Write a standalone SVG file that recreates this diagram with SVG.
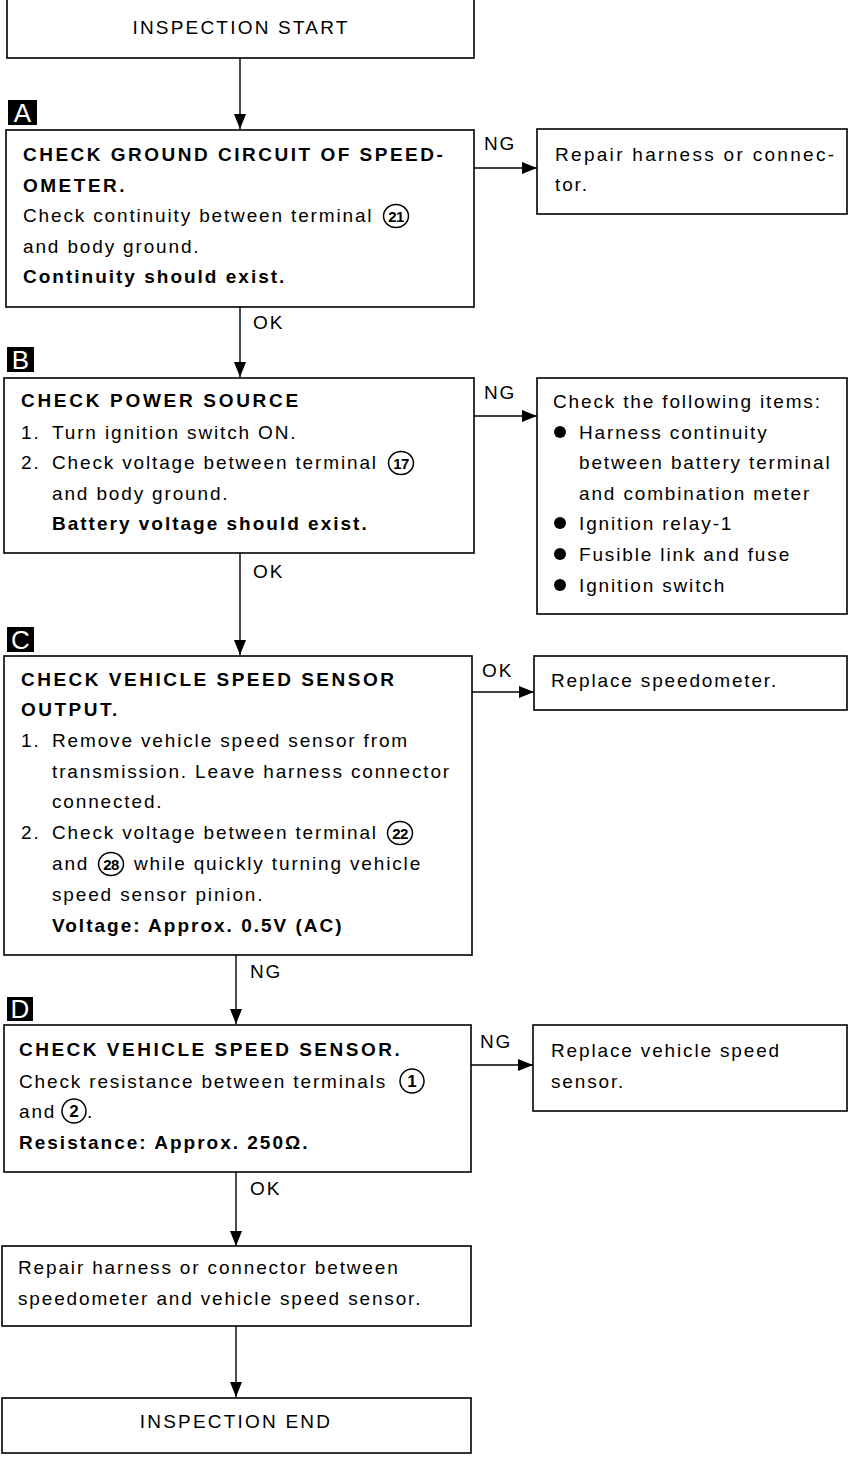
<svg xmlns="http://www.w3.org/2000/svg" width="849" height="1459" viewBox="0 0 849 1459">
<style>
.box{fill:#fff;stroke:#000;stroke-width:1.6}
.t{font-family:"Liberation Sans",Arial,sans-serif;font-size:19px;letter-spacing:1.85px;fill:#000}
.b{font-weight:bold;letter-spacing:2px}
.cap{letter-spacing:2.5px}
.rc{letter-spacing:2.2px}
.c{text-anchor:middle}
.lab{fill:#000}
.labt{font-family:"Liberation Sans",Arial,sans-serif;font-size:26px;fill:#fff;text-anchor:middle}
.edge{stroke:#000;stroke-width:1.4;fill:none}
.circ{fill:none;stroke:#000;stroke-width:1.5}
.cn{font-family:"Liberation Sans",Arial,sans-serif;font-size:15px;font-weight:bold;letter-spacing:-0.6px;text-anchor:middle;fill:#000}
.cn1{font-family:"Liberation Sans",Arial,sans-serif;font-size:17px;font-weight:bold;text-anchor:middle;fill:#000}
.dot{fill:#000}
</style>
<defs>
<marker id="ah" viewBox="0 0 15 12" refX="15" refY="6" markerWidth="15" markerHeight="12" markerUnits="userSpaceOnUse" orient="auto"><path d="M0,0 L15,6 L0,12 z" fill="#000"/></marker>
</defs>
<rect width="849" height="1459" fill="#fff"/>

<g id="connectors">
<line class="edge" x1="240" y1="58" x2="240" y2="129" marker-end="url(#ah)"/>
<line class="edge" x1="474" y1="168" x2="537" y2="168" marker-end="url(#ah)"/>
<text class="t" x="484" y="150">NG</text>
<line class="edge" x1="240" y1="307" x2="240" y2="377" marker-end="url(#ah)"/>
<text class="t" x="253" y="329">OK</text>
<line class="edge" x1="474" y1="416" x2="537" y2="416" marker-end="url(#ah)"/>
<text class="t" x="484" y="399">NG</text>
<line class="edge" x1="240" y1="553" x2="240" y2="655" marker-end="url(#ah)"/>
<text class="t" x="253" y="578">OK</text>
<line class="edge" x1="472" y1="692" x2="534" y2="692" marker-end="url(#ah)"/>
<text class="t" x="482" y="677">OK</text>
<line class="edge" x1="236" y1="955" x2="236" y2="1024" marker-end="url(#ah)"/>
<text class="t" x="250" y="978">NG</text>
<line class="edge" x1="471" y1="1065" x2="533" y2="1065" marker-end="url(#ah)"/>
<text class="t" x="480" y="1048">NG</text>
<line class="edge" x1="236" y1="1172" x2="236" y2="1246" marker-end="url(#ah)"/>
<text class="t" x="250" y="1195">OK</text>
<line class="edge" x1="236" y1="1326" x2="236" y2="1397" marker-end="url(#ah)"/>
</g>

<g id="start">
<rect class="box" x="7" y="-1" width="467" height="59"/>
<text class="t c rc" x="241" y="34">INSPECTION START</text>
</g>

<g id="stepA">
<rect class="lab" x="8" y="100" width="29" height="25"/>
<text class="labt" x="22.5" y="122">A</text>
<rect class="box" x="6" y="130" width="468" height="177"/>
<text class="t b cap" x="23" y="161">CHECK GROUND CIRCUIT OF SPEED-</text>
<text class="t b cap" x="23" y="192">OMETER.</text>
<text class="t" x="23" y="222">Check continuity between terminal</text>
<ellipse class="circ" cx="396" cy="216" rx="12.5" ry="11.5"/>
<text class="cn" x="396" y="221.5">21</text>
<text class="t" x="23" y="253">and body ground.</text>
<text class="t b" x="23" y="283">Continuity should exist.</text>
</g>

<g id="repairA">
<rect class="box" x="537" y="129" width="310" height="85"/>
<text class="t" x="555" y="161" style="letter-spacing:2.3px">Repair harness or connec-</text>
<text class="t" x="555" y="191">tor.</text>
</g>

<g id="stepB">
<rect class="lab" x="7" y="347" width="27" height="25"/>
<text class="labt" x="20.5" y="369">B</text>
<rect class="box" x="4" y="378" width="470" height="175"/>
<text class="t b cap" x="21" y="407" style="letter-spacing:2.7px">CHECK POWER SOURCE</text>
<text class="t" x="21" y="439">1.</text>
<text class="t" x="52" y="439">Turn ignition switch ON.</text>
<text class="t" x="21" y="469">2.</text>
<text class="t" x="52" y="469">Check voltage between terminal</text>
<ellipse class="circ" cx="401" cy="463" rx="12.5" ry="11.5"/>
<text class="cn" x="401" y="468.5">17</text>
<text class="t" x="52" y="500">and body ground.</text>
<text class="t b" x="52" y="530">Battery voltage should exist.</text>
</g>

<g id="checkItems">
<rect class="box" x="537" y="378" width="310" height="236"/>
<text class="t" x="553" y="408">Check the following items:</text>
<circle class="dot" cx="560" cy="432" r="6"/>
<text class="t" x="579" y="439">Harness continuity</text>
<text class="t" x="579" y="469">between battery terminal</text>
<text class="t" x="579" y="500">and combination meter</text>
<circle class="dot" cx="560" cy="523" r="6"/>
<text class="t" x="579" y="530">Ignition relay-1</text>
<circle class="dot" cx="560" cy="554" r="6"/>
<text class="t" x="579" y="561">Fusible link and fuse</text>
<circle class="dot" cx="560" cy="585" r="6"/>
<text class="t" x="579" y="592">Ignition switch</text>
</g>

<g id="stepC">
<rect class="lab" x="7" y="627" width="27" height="25"/>
<text class="labt" x="20.5" y="649">C</text>
<rect class="box" x="4" y="656" width="468" height="299"/>
<text class="t b cap" x="21" y="686">CHECK VEHICLE SPEED SENSOR</text>
<text class="t b cap" x="21" y="716">OUTPUT.</text>
<text class="t" x="21" y="747">1.</text>
<text class="t" x="52" y="747">Remove vehicle speed sensor from</text>
<text class="t" x="52" y="778">transmission. Leave harness connector</text>
<text class="t" x="52" y="808">connected.</text>
<text class="t" x="21" y="839">2.</text>
<text class="t" x="52" y="839">Check voltage between terminal</text>
<ellipse class="circ" cx="400" cy="833" rx="12.5" ry="11.5"/>
<text class="cn" x="400" y="838.5">22</text>
<text class="t" x="52" y="870">and</text>
<ellipse class="circ" cx="111" cy="864" rx="12.5" ry="11.5"/>
<text class="cn" x="111" y="869.5">28</text>
<text class="t" x="134" y="870">while quickly turning vehicle</text>
<text class="t" x="52" y="901">speed sensor pinion.</text>
<text class="t b" x="52" y="932">Voltage: Approx. 0.5V (AC)</text>
</g>

<g id="replaceSpeedo">
<rect class="box" x="534" y="656" width="313" height="54"/>
<text class="t" x="551" y="687">Replace speedometer.</text>
</g>

<g id="stepD">
<rect class="lab" x="7" y="997" width="26" height="24"/>
<text class="labt" x="20" y="1018">D</text>
<rect class="box" x="4" y="1025" width="467" height="147"/>
<text class="t b cap" x="19" y="1056">CHECK VEHICLE SPEED SENSOR.</text>
<text class="t" x="19" y="1088">Check resistance between terminals</text>
<circle class="circ" cx="412" cy="1081" r="12"/>
<text class="cn1" x="412" y="1087">1</text>
<text class="t" x="19" y="1118">and</text>
<circle class="circ" cx="74" cy="1111" r="12"/>
<text class="cn1" x="74" y="1117">2</text>
<text class="t" x="87" y="1118">.</text>
<text class="t b" x="19" y="1149">Resistance: Approx. 250Ω.</text>
</g>

<g id="replaceSensor">
<rect class="box" x="533" y="1025" width="314" height="86"/>
<text class="t" x="551" y="1057">Replace vehicle speed</text>
<text class="t" x="551" y="1088">sensor.</text>
</g>

<g id="repairHarness">
<rect class="box" x="2" y="1246" width="469" height="80"/>
<text class="t" x="18" y="1274">Repair harness or connector between</text>
<text class="t" x="18" y="1305">speedometer and vehicle speed sensor.</text>
</g>

<g id="end">
<rect class="box" x="2" y="1398" width="469" height="55"/>
<text class="t c rc" x="236" y="1428">INSPECTION END</text>
</g>
</svg>
